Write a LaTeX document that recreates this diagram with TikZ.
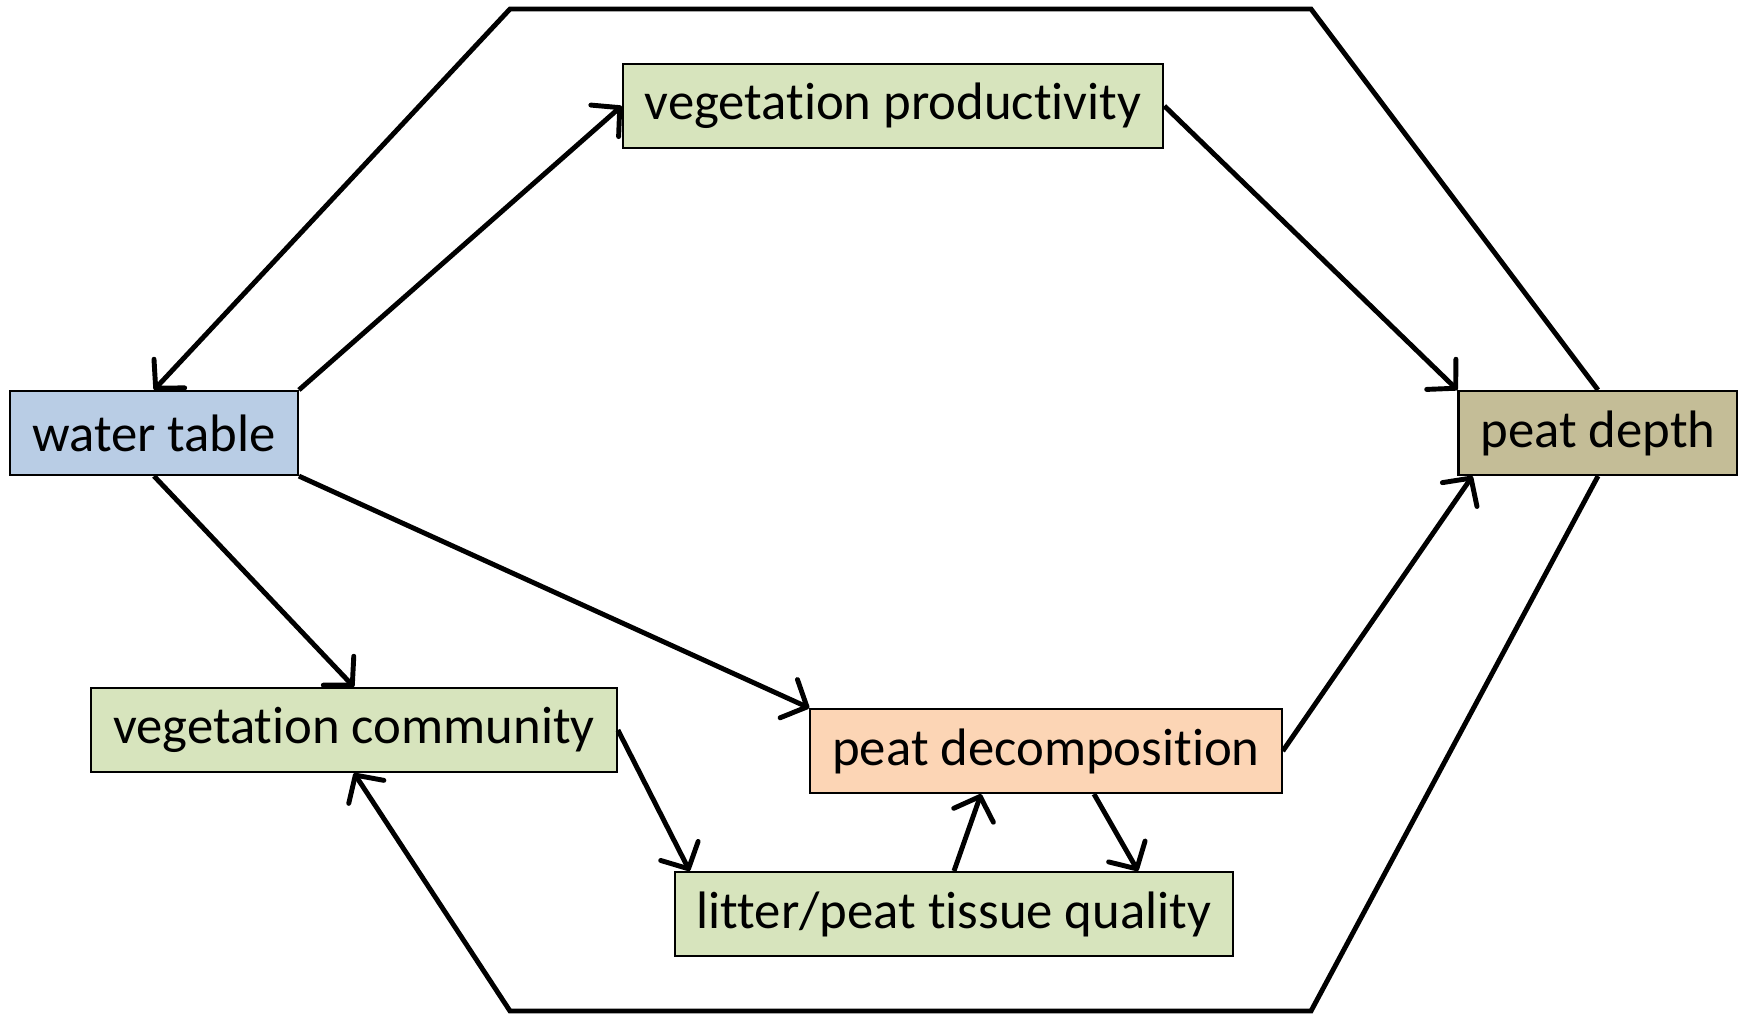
\documentclass[tikz,border=0pt]{standalone}
\usepackage{fontspec}
\setmainfont[Ligatures=NoCommon]{Carlito}
\usetikzlibrary{arrows.meta}

\definecolor{wtblue}{RGB}{185,205,229}
\definecolor{veggreen}{RGB}{215,228,189}
\definecolor{decorange}{RGB}{252,213,181}
\definecolor{depthtan}{RGB}{196,189,151}

\tikzstyle{box} = [draw=black,line width=0.6pt,rectangle,minimum height=0.84cm,inner xsep=0.22cm,font=\fontsize{15}{18}\selectfont]
\tikzstyle{link} = [line width=1.4pt,-{Straight Barb[length=2mm,width=4.2mm,line width=1.4pt,round]}]

\begin{document}
\begin{tikzpicture}
	\useasboundingbox (0,0) rectangle (17.38,-10.15);

	\node[box,fill=wtblue] (wt) at (1.54,-4.33) {water table};
	\node[box,fill=depthtan] (pd) at (15.98,-4.33) {peat depth};
	\node[box,fill=veggreen] (vp) at (8.93,-1.06) {vegetation productivity};
	\node[box,fill=veggreen] (vc) at (3.54,-7.30) {vegetation community};
	\node[box,fill=decorange] (dc) at (10.46,-7.51) {peat decomposition};
	\node[box,fill=veggreen] (lq) at (9.54,-9.14) {litter/peat tissue quality};

	% corners of the outer loop
	\coordinate (c1) at (13.11,-0.09);
	\coordinate (c2) at (5.10,-0.09);
	\coordinate (c3) at (13.11,-10.11);
	\coordinate (c4) at (5.10,-10.11);

	\draw[link] (pd.north) -- (c1) -- (c2) -- (wt.north);
	\draw[link] (pd.south) -- (c3) -- (c4) -- (vc.south);

	\draw[link] (wt.north east) -- (vp.west);
	\draw[link] (vp.east) -- (pd.north west);
	\draw[link] (wt.south east) -- (dc.north west);
	\draw[link] (wt.south) -- (vc.north);
	\draw[link] (dc.east) -- ([xshift=1.5mm]pd.south west);
	\draw[link] (vc.east) -- ([xshift=1.6mm]lq.north west);
	\draw[link] (lq.north) -- ([xshift=-6.5mm]dc.south);
	\draw[link] ([xshift=4.8mm]dc.south) -- ([xshift=18.4mm]lq.north);
\end{tikzpicture}
\end{document}
